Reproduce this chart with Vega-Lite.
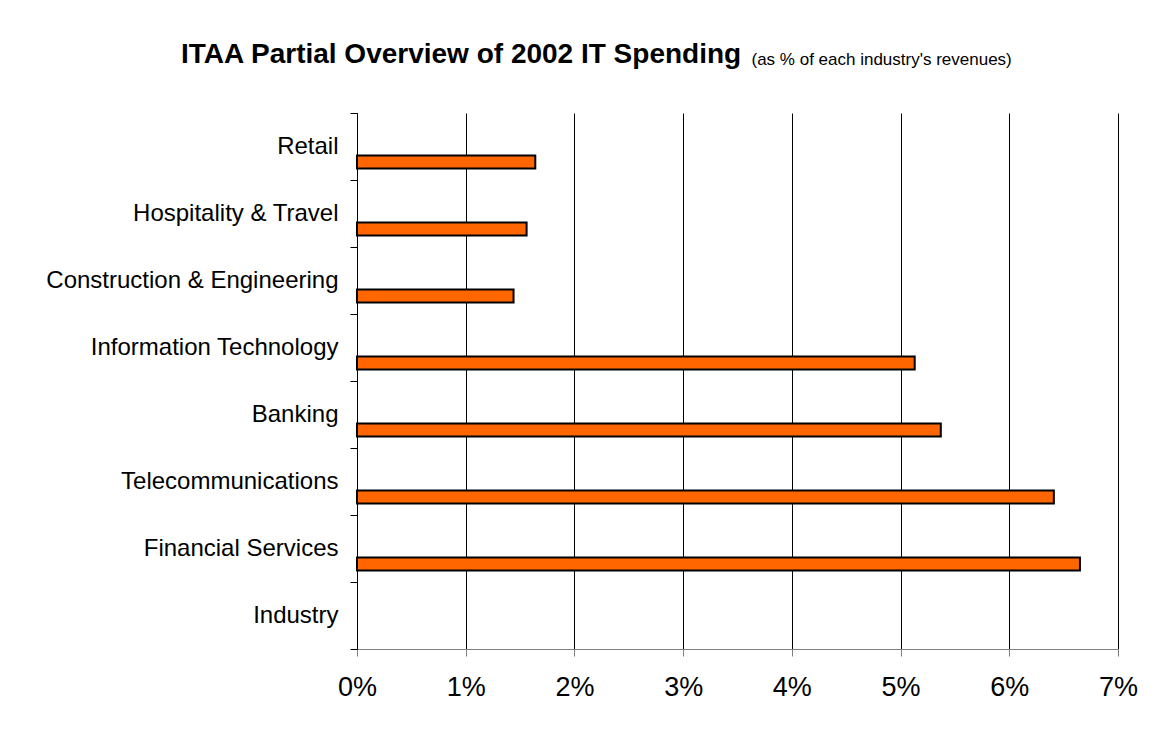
{
  "$schema": "https://vega.github.io/schema/vega-lite/v6.json",
  "width": 761,
  "height": 536,
  "autosize": {"type": "none"},
  "padding": {"left": 357, "top": 113, "right": 48, "bottom": 89},
  "background": "white",
  "title": {
    "text": "ITAA Partial Overview of 2002 IT Spending",
    "anchor": "start",
    "frame": "group",
    "dx": -176,
    "offset": -41,
    "baseline": "alphabetic",
    "font": "Liberation Sans",
    "fontSize": 28,
    "fontWeight": "bold",
    "color": "black"
  },
  "data": {
    "values": [
      {"industry": "Retail", "pct": 1.64},
      {"industry": "Hospitality & Travel", "pct": 1.56},
      {"industry": "Construction & Engineering", "pct": 1.44},
      {"industry": "Information Technology", "pct": 5.13},
      {"industry": "Banking", "pct": 5.37},
      {"industry": "Telecommunications", "pct": 6.41},
      {"industry": "Financial Services", "pct": 6.65},
      {"industry": "Industry", "pct": null}
    ]
  },
  "mark": {"type": "bar", "fill": "#FF6600", "stroke": "black", "strokeWidth": 2},
  "encoding": {
    "y": {
      "field": "industry",
      "type": "nominal",
      "sort": null,
      "scale": {
        "domain": ["Retail", "Hospitality & Travel", "Construction & Engineering", "Information Technology", "Banking", "Telecommunications", "Financial Services", "Industry"],
        "paddingInner": 0,
        "paddingOuter": 0
      },
      "axis": {
        "title": "(as % of each industry's revenues)",
        "titleAngle": 0,
        "titleAlign": "left",
        "titleBaseline": "alphabetic",
        "titleX": 394,
        "titleY": -49,
        "titleFont": "Liberation Sans",
        "titleFontSize": 17,
        "titleFontWeight": "normal",
        "titleColor": "black",
        "labelFont": "Liberation Sans",
        "labelFontSize": 24,
        "labelColor": "black",
        "labelPadding": 12,
        "labelLimit": 400,
        "tickSize": 7,
        "tickColor": "black",
        "tickBand": "extent",
        "domainColor": "black",
        "grid": false
      }
    },
    "yOffset": {
      "datum": "value",
      "scale": {"domain": ["blank", "value"], "paddingInner": 0.583, "paddingOuter": 0.367}
    },
    "x": {
      "field": "pct",
      "type": "quantitative",
      "scale": {"domain": [0, 7], "nice": false},
      "axis": {
        "title": null,
        "values": [0, 1, 2, 3, 4, 5, 6, 7],
        "labelExpr": "datum.value + '%'",
        "labelFlush": false,
        "labelFont": "Liberation Sans",
        "labelFontSize": 27,
        "labelColor": "black",
        "labelPadding": 18,
        "tickSize": 7,
        "tickColor": "#808080",
        "domainColor": "#808080",
        "grid": true,
        "gridColor": "black",
        "gridWidth": 1,
        "gridOpacity": 1
      }
    }
  },
  "config": {"view": {"stroke": null}}
}
